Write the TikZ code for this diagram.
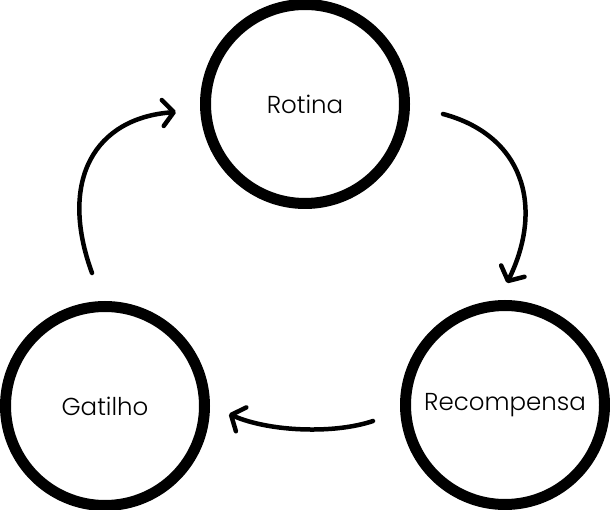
\documentclass[tikz,border=0pt]{standalone}
\usepackage{fontspec}
\setmainfont{Poppins}[UprightFont=* Light]
\usetikzlibrary{arrows.meta}
\begin{document}
\begin{tikzpicture}[x=1pt,y=-1pt,
  stage/.style={circle,draw=black,line width=11pt,minimum size=199pt,inner sep=0pt,font=\fontsize{24.5}{28}\selectfont},
  flow/.style={line width=4.5pt,line cap=round,-{Straight Barb[length=11pt,width=26pt,round]}}]
\useasboundingbox (0,0) rectangle (610,510);
\node[stage] (rot) at (305,104) {Rotina};
\node[stage] (gat) at (105,406) {\raisebox{-2pt}{Gatilho}};
\node[stage] (rec) at (505,405) {\raisebox{-4pt}{Recompensa}};
\coordinate (a1s) at (92,273);
\coordinate (a1e) at (176,112);
\coordinate (a2s) at (443,114);
\coordinate (a2e) at (507,283);
\coordinate (a3s) at (373,421);
\coordinate (a3e) at (229,414);
\draw[flow] (a1s) .. controls (58,180) and (95,118) .. (a1e);
\draw[flow] (a2s) .. controls (522,135) and (545,205) .. (a2e);
\draw[flow] (a3s) .. controls (335,434) and (270,432) .. (a3e);
\end{tikzpicture}
\end{document}
